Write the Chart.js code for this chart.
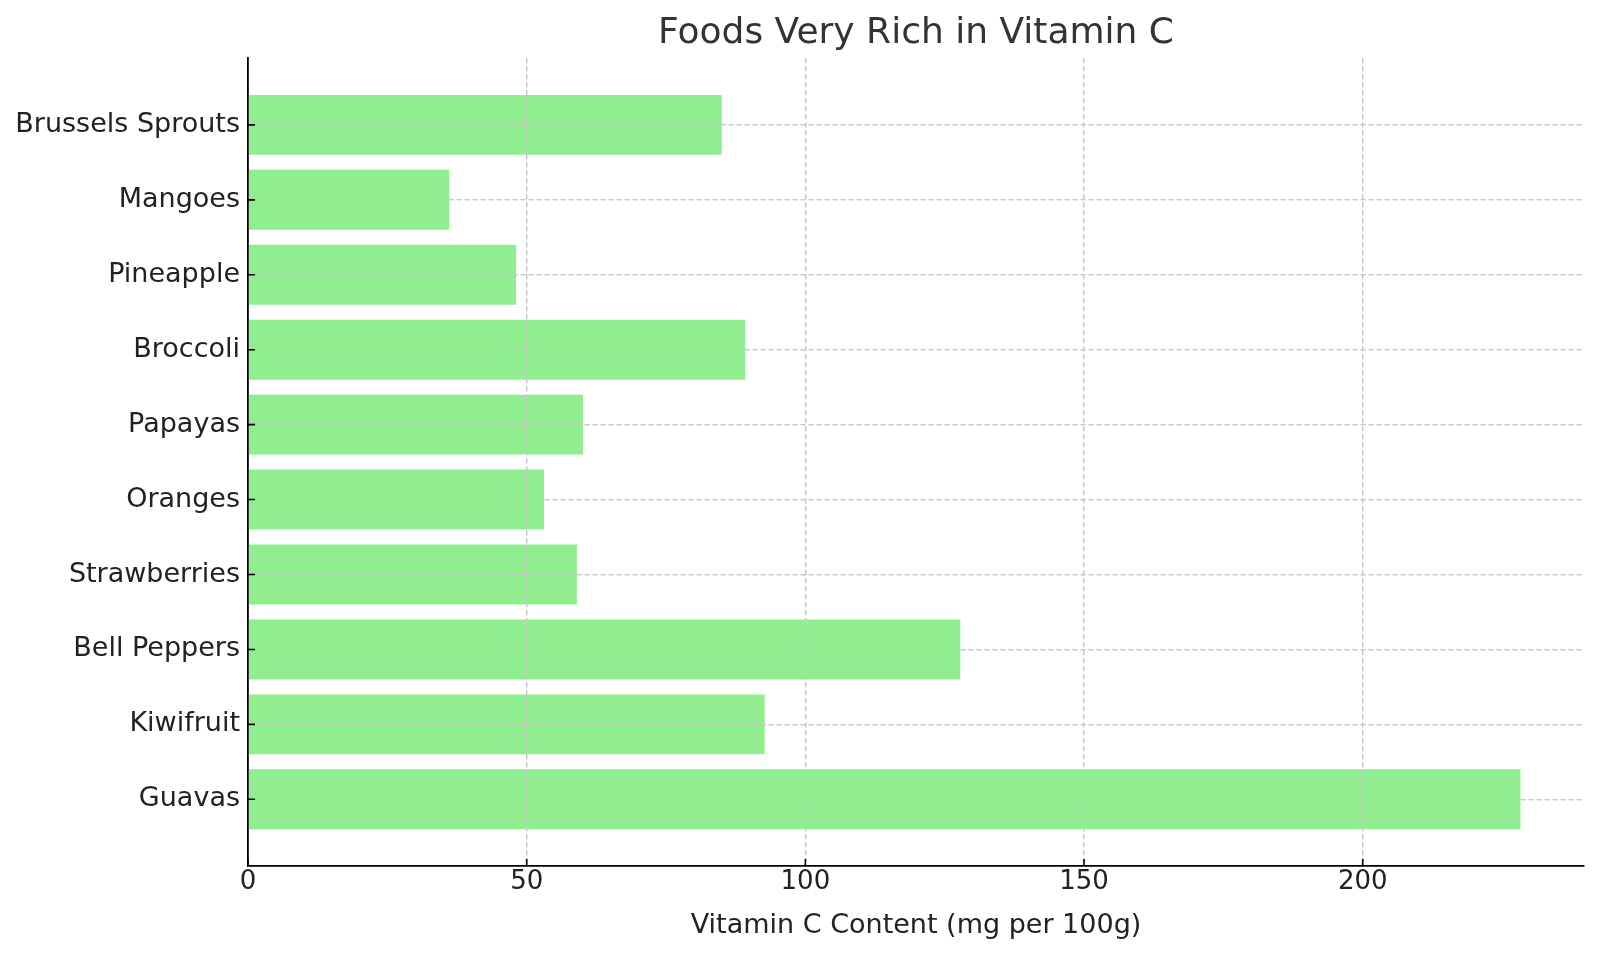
<!DOCTYPE html>
<html>
<head>
<meta charset="utf-8">
<script src="https://cdn.jsdelivr.net/npm/chart.js@4"></script>
<style>
  html, body { margin: 0; padding: 0; background: #fff; }
  #wrap { width: 1600px; height: 954px; }
</style>
</head>
<body>
<div id="wrap"><canvas id="vitaminChart" width="1600" height="954"></canvas></div>
<script>
// foods, bottom to top
const foods = ['Guavas', 'Kiwifruit', 'Bell Peppers', 'Strawberries', 'Oranges',
  'Papayas', 'Broccoli', 'Pineapple', 'Mangoes', 'Brussels Sprouts'];
// mg per 100g
const vitaminC = [228.3, 92.7, 127.8, 59, 53.1, 60.1, 89.2, 48.1, 36.1, 85];
const xTicks = [0, 50, 100, 150, 200];

const FONT = "'DejaVu Sans', sans-serif";
const gridColor = '#c8c8c8';

// grid goes on top of the bars like in matplotlib, ticks point inwards
const overlay = {
  id: 'overlay',
  afterDatasetsDraw(chart) {
    const { ctx, chartArea, scales } = chart;
    scales.x.drawGrid(chartArea);
    scales.y.drawGrid(chartArea);
    scales.x.drawBorder();
    scales.y.drawBorder();
    ctx.save();
    ctx.strokeStyle = '#000';
    ctx.lineWidth = 1.6;
    ctx.beginPath();
    xTicks.forEach(v => {
      const px = scales.x.getPixelForValue(v);
      ctx.moveTo(px, chartArea.bottom);
      ctx.lineTo(px, chartArea.bottom - 7);
    });
    foods.forEach((f, i) => {
      const py = scales.y.getPixelForValue(i);
      ctx.moveTo(chartArea.left, py);
      ctx.lineTo(chartArea.left + 7, py);
    });
    ctx.stroke();
    ctx.restore();
  }
};

document.addEventListener('DOMContentLoaded', function () {
  const canvas = document.getElementById('vitaminChart');

  new Chart(canvas, {
    type: 'bar',
    data: {
      datasets: [{
        label: 'Vitamin C',
        data: foods.map((f, i) => ({ x: vitaminC[i], y: i })),
        backgroundColor: '#90ee90',
        borderWidth: 0,
        categoryPercentage: 1,
        barPercentage: 0.8
      }]
    },
    options: {
      indexAxis: 'y',
      responsive: false,
      animation: false,
      layout: { padding: { left: 0, right: 16, top: 0, bottom: 0 } },
      plugins: {
        legend: { display: false },
        tooltip: { enabled: false },
        title: {
          display: true,
          fullSize: false,
          text: 'Foods Very Rich in Vitamin C',
          color: '#333333',
          font: { family: FONT, size: 36, weight: 'normal' },
          padding: { top: 12, bottom: 3 }
        }
      },
      scales: {
        x: {
          type: 'linear',
          min: 0,
          max: 239.7,
          ticks: {
            stepSize: 50,
            color: '#222',
            padding: 1,
            font: { family: FONT, size: 26 }
          },
          afterBuildTicks(axis) {
            axis.ticks = xTicks.map(v => ({ value: v }));
          },
          afterFit(axis) { axis.height = 88; },
          grid: {
            color: gridColor,
            lineWidth: 1.3,
            drawTicks: false
          },
          border: { display: true, color: '#000', width: 1.6, dash: [5, 3] },
          title: {
            display: true,
            text: 'Vitamin C Content (mg per 100g)',
            color: '#222',
            font: { family: FONT, size: 27 },
            padding: { top: 4, bottom: 12 }
          }
        },
        y: {
          type: 'linear',
          offset: false,
          min: -0.89,
          max: 9.89,
          ticks: {
            stepSize: 1,
            color: '#222',
            padding: 8,
            font: { family: FONT, size: 27 },
            callback: v => foods[v]
          },
          afterBuildTicks(axis) {
            axis.ticks = foods.map((f, i) => ({ value: i }));
          },
          afterFit(axis) { axis.width = 248; },
          grid: {
            offset: false,
            color: gridColor,
            lineWidth: 1.3,
            drawTicks: false
          },
          border: { display: true, color: '#000', width: 1.6, dash: [5, 3] }
        }
      }
    },
    plugins: [overlay]
  });
});
</script>
</body>
</html>
